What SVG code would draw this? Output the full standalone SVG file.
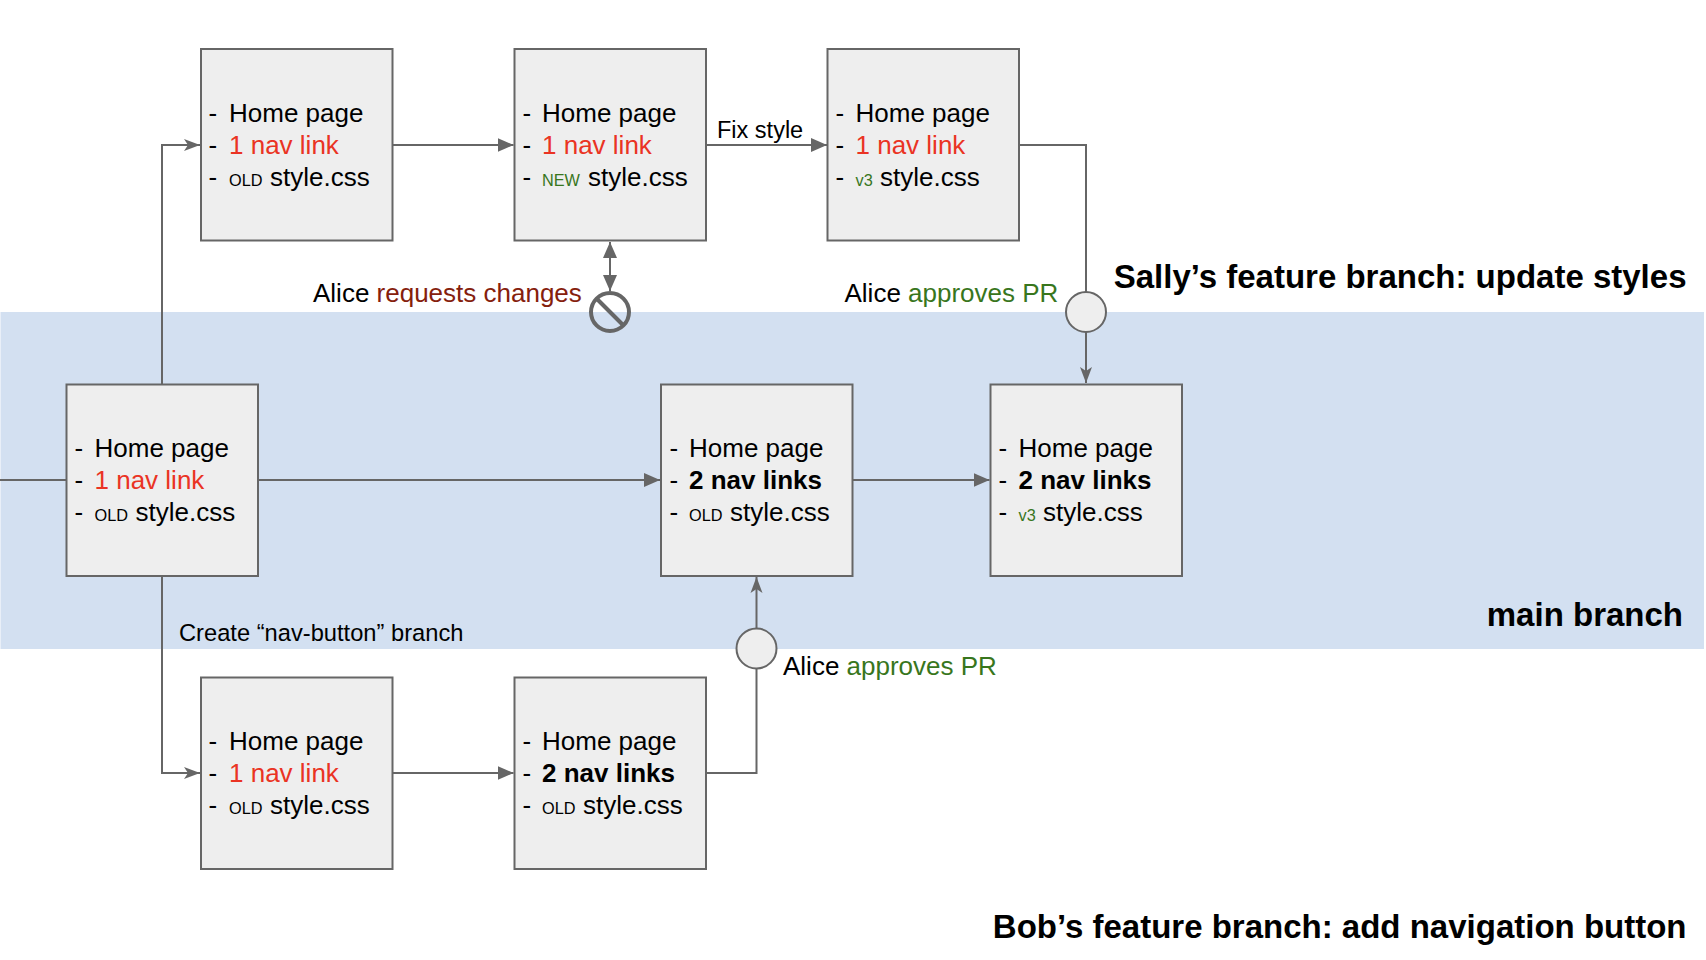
<svg xmlns="http://www.w3.org/2000/svg" width="1706" height="960" viewBox="0 0 1706 960">
<style>
text{font-family:"Liberation Sans",Arial,sans-serif;fill:#000}
.t{font-size:26px}
.l{font-size:23.5px}
.cr{font-size:23.7px}
.h{font-size:33px;font-weight:700;text-anchor:end}
.s{font-size:16.300px}
.box{fill:#eee;stroke:#666;stroke-width:2}
.c{fill:none;stroke:#666;stroke-width:2}
.red{fill:#ea3323}
.dr{fill:#85200c}
.gr{fill:#38761d}
.b{font-weight:700}
.circ{fill:#eee;stroke:#666;stroke-width:2}
.no{fill:none;stroke:#666;stroke-width:4}
</style>
<defs>
<marker id="f" markerUnits="userSpaceOnUse" markerWidth="17" markerHeight="14" refX="16" refY="7" orient="auto-start-reverse"><path d="M0 0L16 7L0 14Z" fill="#666"/></marker>
<marker id="o" markerUnits="userSpaceOnUse" markerWidth="17" markerHeight="14" refX="16" refY="7" orient="auto"><path d="M0 1L16 7L0 13L4 7Z" fill="#666"/></marker>
</defs>
<rect width="1706" height="960" fill="#fff"/>
<rect id="main-band" x="0.500" y="312" width="1703.500" height="337" fill="#d3e0f1"/>
<g id="connectors">
<path class="c" d="M0 480H66"/>
<path class="c" d="M258 480H660" marker-end="url(#f)"/>
<path class="c" d="M853 480H989.500" marker-end="url(#f)"/>
<path class="c" d="M392.500 145H513.500" marker-end="url(#f)"/>
<path class="c" d="M706 145H827" marker-end="url(#f)"/>
<path class="c" d="M1019.500 145H1086V292"/>
<path class="c" d="M1086 332V383" marker-end="url(#o)"/>
<path class="c" d="M162 384V145H200" marker-end="url(#o)"/>
<path class="c" d="M162 576V773H200" marker-end="url(#o)"/>
<path class="c" d="M392.500 773H513.500" marker-end="url(#f)"/>
<path class="c" d="M706 773H756.500V668"/>
<path class="c" d="M756.500 628V577" marker-end="url(#o)"/>
<path class="c" d="M610 242V291" marker-start="url(#f)" marker-end="url(#f)"/>
</g>
<g id="sally-1"><rect class="box" x="201" y="49" width="191.500" height="191.500"/>
<text class="t"><tspan x="208.500" y="122">-</tspan><tspan x="229" y="122">Home page</tspan></text>
<text class="t"><tspan x="208.500" y="154">-</tspan><tspan class="red" x="229" y="154">1 nav link</tspan></text>
<text class="t"><tspan x="208.500" y="186">-</tspan><tspan class="s" x="229" y="186">OLD</tspan><tspan x="270" y="186">style.css</tspan></text></g>
<g id="sally-2"><rect class="box" x="514.500" y="49" width="191.500" height="191.500"/>
<text class="t"><tspan x="522.500" y="122">-</tspan><tspan x="542" y="122">Home page</tspan></text>
<text class="t"><tspan x="522.500" y="154">-</tspan><tspan class="red" x="542" y="154">1 nav link</tspan></text>
<text class="t"><tspan x="522.500" y="186">-</tspan><tspan class="s gr" x="542" y="186">NEW</tspan><tspan x="588" y="186">style.css</tspan></text></g>
<g id="sally-3"><rect class="box" x="827.500" y="49" width="191.500" height="191.500"/>
<text class="t"><tspan x="835.500" y="122">-</tspan><tspan x="855.500" y="122">Home page</tspan></text>
<text class="t"><tspan x="835.500" y="154">-</tspan><tspan class="red" x="855.500" y="154">1 nav link</tspan></text>
<text class="t"><tspan x="835.500" y="186">-</tspan><tspan class="s gr" x="855.500" y="186">v3</tspan><tspan x="880" y="186">style.css</tspan></text></g>
<g id="main-1"><rect class="box" x="66.500" y="384.500" width="191.500" height="191.500"/>
<text class="t"><tspan x="74.500" y="457">-</tspan><tspan x="94.500" y="457">Home page</tspan></text>
<text class="t"><tspan x="74.500" y="489">-</tspan><tspan class="red" x="94.500" y="489">1 nav link</tspan></text>
<text class="t"><tspan x="74.500" y="521">-</tspan><tspan class="s" x="94.500" y="521">OLD</tspan><tspan x="135.500" y="521">style.css</tspan></text></g>
<g id="main-2"><rect class="box" x="661" y="384.500" width="191.500" height="191.500"/>
<text class="t"><tspan x="669.500" y="457">-</tspan><tspan x="689" y="457">Home page</tspan></text>
<text class="t"><tspan x="669.500" y="489">-</tspan><tspan class="b" x="689" y="489">2 nav links</tspan></text>
<text class="t"><tspan x="669.500" y="521">-</tspan><tspan class="s" x="689" y="521">OLD</tspan><tspan x="730" y="521">style.css</tspan></text></g>
<g id="main-3"><rect class="box" x="990.500" y="384.500" width="191.500" height="191.500"/>
<text class="t"><tspan x="998.500" y="457">-</tspan><tspan x="1018.500" y="457">Home page</tspan></text>
<text class="t"><tspan x="998.500" y="489">-</tspan><tspan class="b" x="1018.500" y="489">2 nav links</tspan></text>
<text class="t"><tspan x="998.500" y="521">-</tspan><tspan class="s gr" x="1018.500" y="521">v3</tspan><tspan x="1043" y="521">style.css</tspan></text></g>
<g id="bob-1"><rect class="box" x="201" y="677.500" width="191.500" height="191.500"/>
<text class="t"><tspan x="208.500" y="750">-</tspan><tspan x="229" y="750">Home page</tspan></text>
<text class="t"><tspan x="208.500" y="782">-</tspan><tspan class="red" x="229" y="782">1 nav link</tspan></text>
<text class="t"><tspan x="208.500" y="814">-</tspan><tspan class="s" x="229" y="814">OLD</tspan><tspan x="270" y="814">style.css</tspan></text></g>
<g id="bob-2"><rect class="box" x="514.500" y="677.500" width="191.500" height="191.500"/>
<text class="t"><tspan x="522.500" y="750">-</tspan><tspan x="542" y="750">Home page</tspan></text>
<text class="t"><tspan x="522.500" y="782">-</tspan><tspan class="b" x="542" y="782">2 nav links</tspan></text>
<text class="t"><tspan x="522.500" y="814">-</tspan><tspan class="s" x="542" y="814">OLD</tspan><tspan x="583" y="814">style.css</tspan></text></g>
<g id="reject"><circle class="no" cx="610" cy="312" r="19"/><path class="no" d="M597 299L623 325"/></g>
<g id="approve-sally"><circle class="circ" cx="1086" cy="312" r="20"/></g>
<g id="approve-bob"><circle class="circ" cx="756.500" cy="648.500" r="20"/></g>
<g id="labels">
<text class="l" x="717" y="138">Fix style</text>
<text class="t" x="313" y="302">Alice <tspan class="dr">requests changes</tspan></text>
<text class="t" x="844.500" y="302">Alice <tspan class="gr">approves PR</tspan></text>
<text class="t" x="783" y="675">Alice <tspan class="gr">approves PR</tspan></text>
<text class="cr" x="179" y="641">Create “nav-button” branch</text>
<text class="h" x="1686.500" y="288">Sally’s feature branch: update styles</text>
<text class="h" x="1683" y="626">main branch</text>
<text class="h" x="1686.500" y="938">Bob’s feature branch: add navigation button</text>
</g>
</svg>
